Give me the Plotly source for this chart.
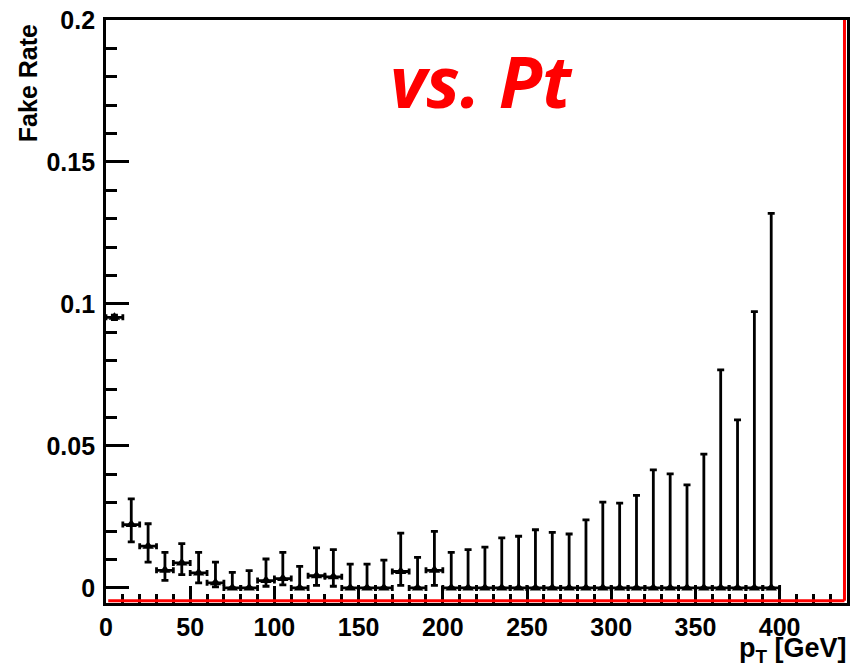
import plotly.graph_objects as go

# pT bins of 10 GeV from 0 to 400, bin centres
pt_centres = [5, 15, 25, 35, 45, 55, 65, 75, 85, 95,
              105, 115, 125, 135, 145, 155, 165, 175, 185, 195,
              205, 215, 225, 235, 245, 255, 265, 275, 285, 295,
              305, 315, 325, 335, 345, 355, 365, 375, 385, 395]
bin_half_width = [5] * 40

fake_rate = [0.0953, 0.0223, 0.0147, 0.0062, 0.0088, 0.0053, 0.0018, 0.0, 0.0, 0.0026,
             0.0033, 0.0, 0.0043, 0.0039, 0.0, 0.0, 0.0, 0.0058, 0.0, 0.0062,
             0.0, 0.0, 0.0, 0.0, 0.0, 0.0, 0.0, 0.0, 0.0, 0.0,
             0.0, 0.0, 0.0, 0.0, 0.0, 0.0, 0.0, 0.0, 0.0, 0.0]

err_up = [0.0008, 0.0091, 0.0079, 0.0063, 0.0068, 0.0072, 0.0073, 0.0055, 0.0061, 0.0076,
          0.0092, 0.0076, 0.0098, 0.0096, 0.0084, 0.0084, 0.0098, 0.0135, 0.0108, 0.0137,
          0.0125, 0.0135, 0.0144, 0.0176, 0.0182, 0.0205, 0.0196, 0.0190, 0.0240, 0.0302,
          0.0299, 0.0326, 0.0416, 0.0402, 0.0363, 0.0471, 0.0768, 0.0592, 0.0973, 0.1319]

err_down = [0.0008, 0.0061, 0.0056, 0.0035, 0.0041, 0.0035, 0.0014, 0.0, 0.0, 0.0020,
            0.0022, 0.0, 0.0034, 0.0033, 0.0, 0.0, 0.0, 0.0049, 0.0, 0.0053,
            0.0, 0.0, 0.0, 0.0, 0.0, 0.0, 0.0, 0.0, 0.0, 0.0,
            0.0, 0.0, 0.0, 0.0, 0.0, 0.0, 0.0, 0.0, 0.0, 0.0]

x_tick_vals = [0, 50, 100, 150, 200, 250, 300, 350, 400]
x_tick_text = ["0", "50", "100", "150", "200", "250", "300", "350", "400"]
y_tick_vals = [0, 0.05, 0.1, 0.15, 0.2]
y_tick_text = ["0", "0.05", "0.1", "0.15", "0.2"]

FONT = "Liberation Sans, Arial, sans-serif"

fig = go.Figure()

fig.add_trace(go.Scatter(
    x=pt_centres,
    y=fake_rate,
    mode="markers",
    marker=dict(symbol="triangle-up", size=10, color="black"),
    error_x=dict(type="data", array=bin_half_width, symmetric=True,
                 color="black", thickness=2.8, width=3),
    error_y=dict(type="data", array=err_up, arrayminus=err_down, symmetric=False,
                 color="black", thickness=2.8, width=3.5),
    showlegend=False,
    cliponaxis=False,
))

axis_common = dict(
    showline=True, linecolor="black", linewidth=2.8, mirror=True,
    showgrid=False, zeroline=False,
    ticks="inside", tickcolor="black", tickwidth=2.5,
    tickfont=dict(family=FONT, size=25, color="black", weight="bold"),
)

fig.update_xaxes(
    range=[0, 440],
    tickmode="array", tickvals=x_tick_vals, ticktext=x_tick_text,
    ticklen=17,
    minor=dict(dtick=10, ticks="inside", ticklen=9, tickcolor="black", tickwidth=2.5),
    **axis_common,
)
fig.update_yaxes(
    range=[-0.0053, 0.2],
    tickmode="array", tickvals=y_tick_vals, ticktext=y_tick_text,
    ticklen=23, ticklabelstandoff=3,
    minor=dict(dtick=0.01, tick0=0, ticks="inside", ticklen=11, tickcolor="black", tickwidth=2.5),
    **axis_common,
)

# red frame line along the bottom and right edges of the pad
fig.add_shape(type="line", xref="paper", yref="paper", x0=0.003, x1=0.9966, y0=0.004, y1=0.004,
              line=dict(color="red", width=3), layer="above")
fig.add_shape(type="line", xref="paper", yref="paper", x0=0.9966, x1=0.9966, y0=0.004, y1=1.0,
              line=dict(color="red", width=3), layer="above")

annotations = [
    dict(text="Fake Rate", textangle=-90, xref="paper", yref="paper",
         x=-0.106, y=0.997, xanchor="center", yanchor="top", showarrow=False,
         font=dict(family=FONT, size=25, color="black", weight="bold")),
    dict(text="p<sub>T</sub> [GeV]", xref="paper", yref="paper",
         x=1.003, y=-0.1125, xanchor="right", yanchor="bottom", showarrow=False,
         font=dict(family=FONT, size=27, color="black", weight="bold")),
    dict(text="<b><i>vs. Pt</i></b>", xref="paper", yref="paper",
         x=0.507, y=0.896, xanchor="center", yanchor="middle", showarrow=False,
         font=dict(family="Open Sans, sans-serif", size=71, color="#ff0000")),
]

fig.update_layout(
    width=854, height=669,
    margin=dict(l=106, r=4, t=20, b=66),
    paper_bgcolor="white", plot_bgcolor="white",
    annotations=annotations,
)

fig.write_html("out.html")
